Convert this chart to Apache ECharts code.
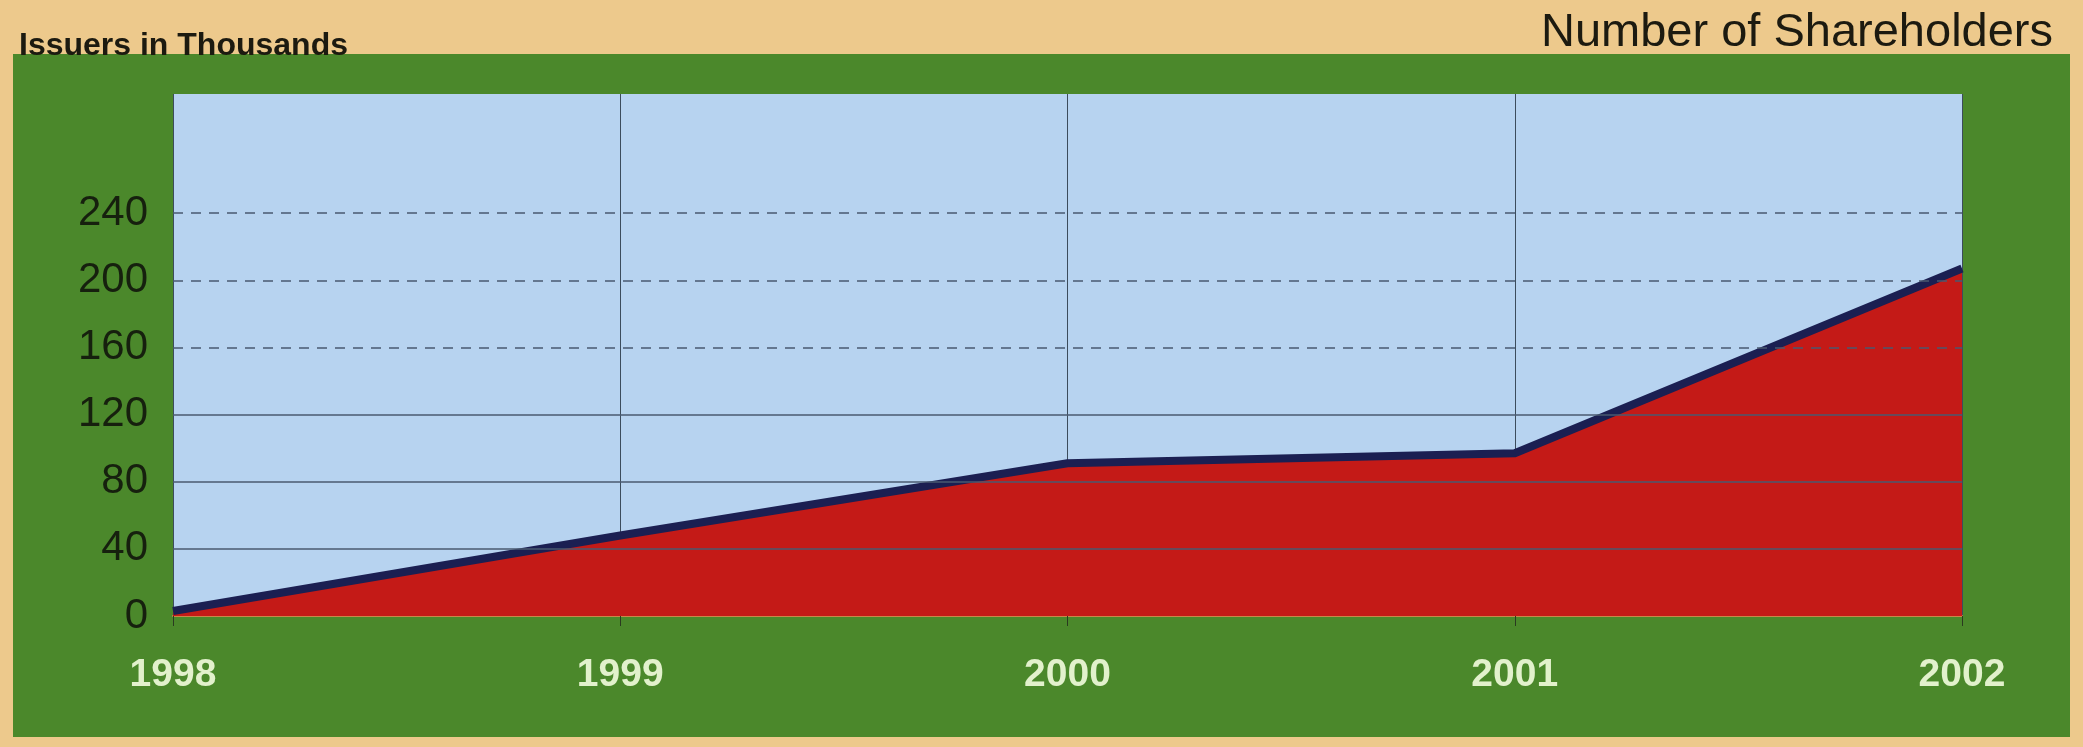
<!DOCTYPE html>
<html>
<head>
<meta charset="utf-8">
<script src="https://cdn.jsdelivr.net/npm/echarts@6/dist/echarts.min.js"></script>
<style>
html,body{margin:0;padding:0;background:#edc98c;}
#chart{width:2083px;height:747px;}
</style>
</head>
<body>
<div id="chart"></div>
<script>
var years = ['1998', '1999', '2000', '2001', '2002'];
var issuers = [3, 48, 91, 97, 207];
var yTicks = [0, 40, 80, 120, 160, 200, 240];
var gridSolid = [40, 80, 120];
var gridDashed = [160, 200, 240];
var yTitle = 'Issuers in Thousands';
var chartTitle = 'Number of Shareholders';

var FONT = '"Liberation Sans", Arial, Helvetica, sans-serif';
var chart = echarts.init(document.getElementById('chart'), null, {renderer: 'canvas'});

var marks = gridSolid.map(function (v) {
  return {yAxis: v, lineStyle: {type: 'solid'}};
}).concat(gridDashed.map(function (v) {
  return {yAxis: v, lineStyle: {type: [10, 8]}};
}));

chart.setOption({
  backgroundColor: '#edc98c',
  animation: false,
  graphic: [
    {type: 'rect', z: -10, shape: {x: 13, y: 54, width: 2057, height: 683},
     style: {fill: '#4b882b'}}
  ],
  title: [
    {text: chartTitle, right: 25, top: 5,
     textStyle: {fontFamily: FONT, fontSize: 47, fontWeight: 'normal', color: '#1c1a10'}},
    {text: yTitle, left: 14, top: 25,
     textStyle: {fontFamily: FONT, fontSize: 32, fontWeight: 'bold', color: '#1c1a10'}}
  ],
  grid: {left: 173, right: 121, top: 94, bottom: 131, show: true,
         backgroundColor: '#b7d3f0', borderWidth: 0},
  xAxis: {
    type: 'category', data: years, boundaryGap: false,
    axisLine: {show: true, lineStyle: {color: '#c9874a', width: 2}},
    axisTick: {show: true, length: 10, lineStyle: {color: '#2a3a20', width: 1}},
    axisLabel: {fontFamily: FONT, fontSize: 39, fontWeight: 'bold', color: '#e2f1cc', margin: 40},
    splitLine: {show: true, lineStyle: {color: '#3c4c5c', width: 1}}
  },
  yAxis: {
    type: 'value', min: 0, max: 311, interval: 40,
    axisLine: {show: false}, axisTick: {show: false},
    splitLine: {show: false},
    axisLabel: {fontFamily: FONT, fontSize: 42, color: '#16200e', margin: 25,
      formatter: function (v) { return yTicks.indexOf(v) >= 0 ? String(v) : ''; }}
  },
  series: [
    {type: 'line', data: [], z: 1, silent: true,
     markLine: {silent: true, symbol: 'none', label: {show: false},
       lineStyle: {color: '#4a5a70', width: 1.5}, data: marks}},
    {type: 'line', data: issuers, z: 3, symbol: 'none', smooth: false,
     lineStyle: {color: '#1b1f52', width: 8, join: 'round'},
     areaStyle: {color: '#c41a17', opacity: 1}}
  ]
});
</script>
</body>
</html>
